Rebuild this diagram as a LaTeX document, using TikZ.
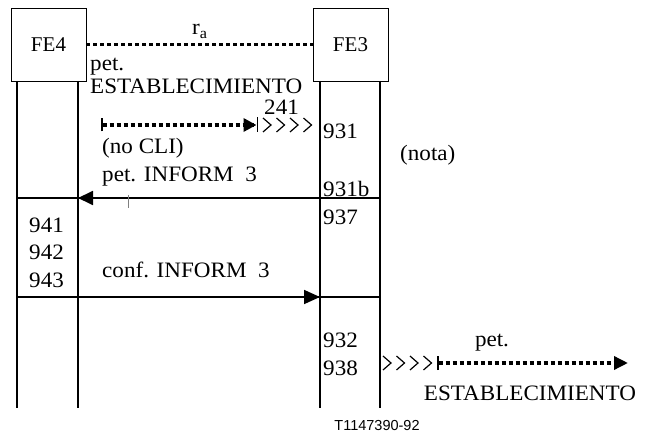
\documentclass[tikz,border=0pt]{standalone}
\usepackage{fontspec}
\setmainfont{Liberation Serif}
\setsansfont{Liberation Sans}
\usetikzlibrary{arrows.meta,calc,positioning}

\begin{document}
\begin{tikzpicture}[x=1pt, y=-1pt]
  % Define dimensions
  \def\Top{81}
  \def\Bot{408}
  \def\LineW{1.8pt}
  \tikzset{
    fe/.style={draw, line width=0.8pt, minimum width=75pt, minimum height=73pt,
               inner sep=0pt, font=\fontsize{21}{23}\selectfont},
    lbl/.style={inner sep=0pt, anchor=base west, xscale=1.05,
                font=\fontsize{22}{24}\selectfont},
    life/.style={line width=\LineW},
    dots/.style={line width=3.4pt, dash pattern=on 4pt off 3pt},
    chev/.style={line width=1.2pt},
  }
  \useasboundingbox (0,0) rectangle (649,433);

  % Draw boxes
  \node[fe] (fe4) at (48.5,44.5) {FE4};
  \node[fe] (fe3) at (350.5,44.5) {FE3};
  \draw[dots] (fe4.east) -- (fe3.west);
  \node[lbl] (ra) at (192,35) {r\textsubscript{a}};

  % Draw lifelines
  \foreach \x/\n in {17/a, 78/b, 320/c, 380/d} {
      \coordinate (\n top) at (\x,\Top);
      \coordinate (\n bot) at (\x,\Bot);
      \draw[life] (\n top) -- (\n bot);
  }

  % Define points
  \coordinate (h1a) at (17,198);
  \coordinate (h1b) at (380,198);
  \coordinate (h2a) at (17,297);
  \coordinate (h2b) at (380,297);
  \coordinate (m1s) at (320,198);
  \coordinate (m1e) at (78,198);
  \coordinate (m2s) at (78,297);
  \coordinate (m2e) at (320,297);
  \coordinate (s1) at (101,125);
  \coordinate (e1) at (258,125);
  \coordinate (s2) at (437,363);
  \coordinate (e2) at (628,363);
  \coordinate (tk1) at (128,195);
  \coordinate (tk2) at (128,208);

  % Draw dividers and messages
  \draw[life] (h1a) -- (h1b);
  \draw[life] (h2a) -- (h2b);
  \draw[life, -{Triangle[length=15pt,width=14pt]}] (m1s) -- (m1e);
  \draw[life, -{Triangle[length=16pt,width=14pt]}] (m2s) -- (m2e);
  \draw[gray, line width=0.8pt] (tk1) -- (tk2);
  \draw[dots, {Bar[width=13pt,line width=2pt]}-{Triangle[length=13pt,width=13pt]Bar[width=15pt,line width=1.5pt]}] (s1) -- (e1);
  \draw[dots, {Bar[width=14pt,line width=2pt]}-{Triangle[length=14pt,width=13pt]}] (s2) -- (e2);
  \foreach \i in {0,...,3} {
      \draw[chev] (263+13.5*\i,118) -- ++(8,7) -- ++(-8,7);
      \draw[chev] (383+13.5*\i,356) -- ++(8,7) -- ++(-8,7);
  }

  % Label points
  \node[lbl] (pet1) at (90,71) {pet.};
  \node[lbl] (est1) at (90,94) {ESTABLECIMIENTO};
  \node[lbl] (n241) at (264,115) {241};
  \node[lbl] (nocli) at (102,154) {(no CLI)};
  \node[lbl] (inf1) at (102,182) {pet. INFORM\ \ 3};
  \node[lbl] (inf2) at (102,278) {conf. INFORM\ \ 3};
  \node[lbl] (nota) at (400,161) {(nota)};
  \foreach \t/\y in {931/139, 931b/197, 937/225, 932/348, 938/375}
      \node[lbl] (n\t) at (323,\y) {\t};
  \foreach \t/\y in {941/233, 942/260, 943/288}
      \node[lbl] (n\t) at (29,\y) {\t};
  \node[lbl, anchor=base] (pet2) at (492,347) {pet.};
  \node[lbl, anchor=base] (est2) at (530,400) {ESTABLECIMIENTO};
  \node[inner sep=0pt, anchor=base, font=\sffamily\fontsize{14.5}{16}\selectfont] (fig) at (377,430) {T1147390-92};

\end{tikzpicture}
\end{document}
